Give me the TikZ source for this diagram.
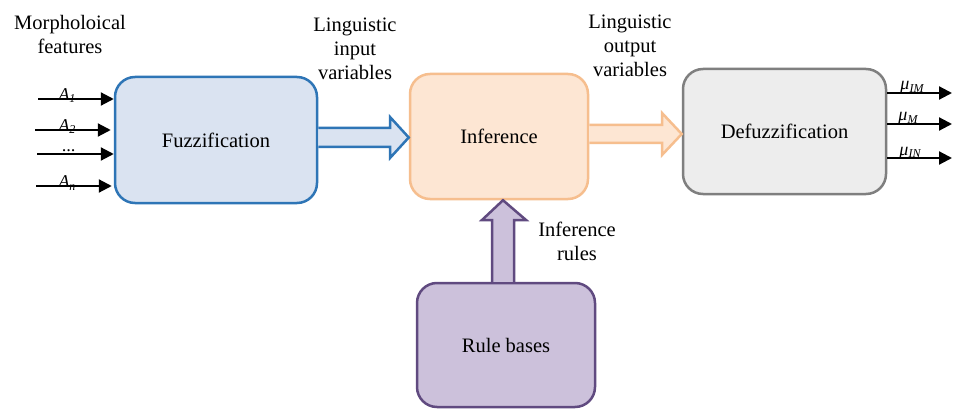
\documentclass[tikz,border=0pt]{standalone}
\usepackage{fontspec}
\setmainfont{Liberation Serif}
\usetikzlibrary{arrows.meta,calc}
\definecolor{bfill}{HTML}{DAE3F1}
\definecolor{bline}{HTML}{2E75B6}
\definecolor{ofill}{HTML}{FDE6D3}
\definecolor{oline}{HTML}{F6BE8E}
\definecolor{gfill}{HTML}{EDEDED}
\definecolor{gline}{HTML}{7F7F7F}
\definecolor{pfill}{HTML}{CCC1DB}
\definecolor{pline}{HTML}{604A80}
\newcommand{\mysub}[1]{\raisebox{-2.5pt}{\fontsize{12}{12}\selectfont\itshape #1}}
\begin{document}
\begin{tikzpicture}[x=1pt,y=-1pt,
  box/.style={rounded corners=20pt,line width=2.5pt,font=\fontsize{20.5}{24}\selectfont},
  lbl/.style={align=center,font=\fontsize{20.5}{24}\selectfont,inner sep=0pt},
  small/.style={font=\fontsize{18}{18}\selectfont\itshape,inner sep=0pt,anchor=base},
  thin/.style={line width=2.2pt,-{Triangle[length=13pt,width=13pt]}},
  blk/.style={line width=2.5pt,line join=miter}]
\useasboundingbox (0,0) rectangle (953,409);
\fill[white] (0,0) rectangle (953,409);
% boxes
\node[box,draw=bline,fill=bfill,minimum width=202pt,minimum height=126pt] (fuzz) at (216,140) {Fuzzification};
\node[box,draw=oline,fill=ofill,minimum width=178pt,minimum height=125pt] (inf) at (499,136.5) {Inference};
\node[box,draw=gline,fill=gfill,minimum width=203pt,minimum height=125pt] (defuzz) at (784.5,131.5) {Defuzzification};
\node[box,draw=pline,fill=pfill,minimum width=178pt,minimum height=124pt] (rule) at (506,345) {Rule bases};
% block arrows
\draw[blk,draw=bline,fill=bfill] (fuzz.east|-0,128) -- (390,128) -- (390,117) -- (inf.west|-0,137.5) -- (390,158) -- (390,147) -- (fuzz.east|-0,147);
\draw[blk,draw=oline,fill=ofill] (inf.east|-0,125) -- (662,125) -- (662,113) -- (defuzz.west|-0,134) -- (662,155) -- (662,143) -- (inf.east|-0,143);
\draw[blk,draw=pline,fill=pfill] (rule.north-|492,0) -- (492,220) -- (482,220) -- (inf.south-|503,0) -- (526,220) -- (514,220) -- (rule.north-|514,0);
% input arrows
\coordinate (i1) at (38,99);
\coordinate (i2) at (35,130);
\coordinate (i3) at (37,154);
\coordinate (i4) at (36,186);
\draw[thin] (i1) -- (fuzz.west|-i1);
\draw[thin] (i2) -- ($(fuzz.west|-i2)+(-3,0)$);
\draw[thin] (i3) -- (fuzz.west|-i3);
\draw[thin] (i4) -- ($(fuzz.west|-i4)+(-2,0)$);
\node[small] (a1) at (67,100.5) {A\mysub{1}};
\node[small] (a2) at (67,131.5) {A\mysub{2}};
\node[small] (a3) at (69,151.5) {...};
\node[small] (a4) at (67,187.5) {A\mysub{n}};
% output arrows
\coordinate (o1) at (952,93);
\coordinate (o2) at (952,124);
\coordinate (o3) at (952,158);
\draw[thin] (defuzz.east|-o1) -- (o1);
\draw[thin] (defuzz.east|-o2) -- (o2);
\draw[thin] (defuzz.east|-o3) -- (o3);
\node[small] (m1) at (912,90) {μ\mysub{IM}};
\node[small] (m2) at (908,121) {μ\mysub{M}};
\node[small] (m3) at (910,155) {μ\mysub{IN}};
% labels
\node[lbl] (t1) at (70,34.5) {Morpholoical\\features};
\node[lbl] (t2) at (355,49) {Linguistic\\input\\variables};
\node[lbl] (t3) at (630,45.5) {Linguistic\\output\\variables};
\node[lbl] (t4) at (577,241.5) {Inference\\rules};
\end{tikzpicture}
\end{document}
